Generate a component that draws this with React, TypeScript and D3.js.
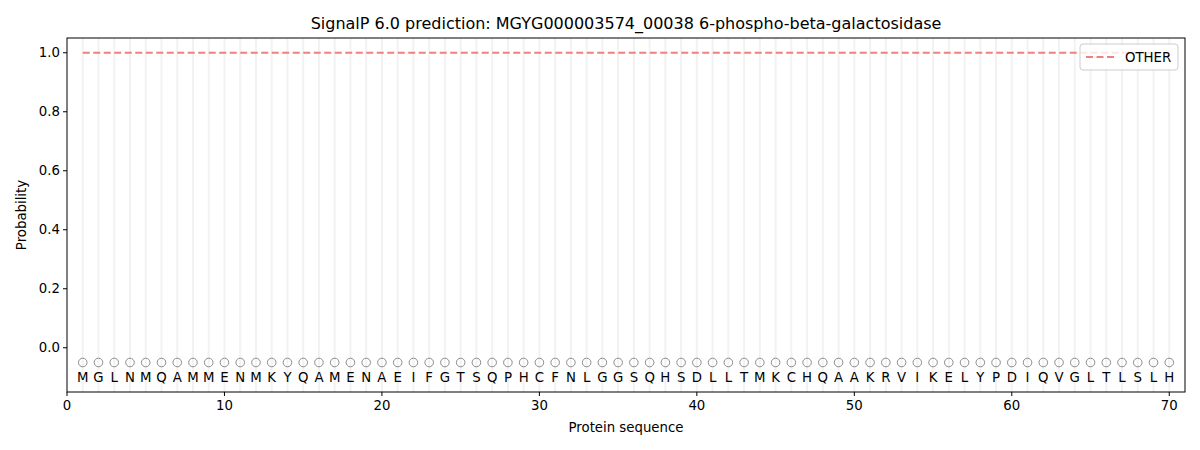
import React from "react";
import * as d3 from "d3";

const sequence = "MGLNMQAMMENMKYQAMENAEIFGTSQPHCFNLGGSQHSDLLTMKCHQAAKRVIKELYPDIQVGLTLSLH".split("");
const positions = sequence.map((_, i) => i + 1);
const otherProb = positions.map(() => 1.0);
const xTicks = [0, 10, 20, 30, 40, 50, 60, 70];
const yTicks = [0.0, 0.2, 0.4, 0.6, 0.8, 1.0];
const title = "SignalP 6.0 prediction: MGYG000003574_00038 6-phospho-beta-galactosidase";

export default function App() {
  const W = 1200, H = 450;
  const L = 67, R = 1185, T = 38, B = 392;
  const x = d3.scaleLinear().domain([0, 71]).range([L, R]);
  const y = d3.scaleLinear().domain([-0.15, 1.05]).range([B, T]);
  const line = d3.line<number>().x((_, i) => x(positions[i])).y((d) => y(d));
  const font = "DejaVu Sans, sans-serif";
  return (
    <svg width={W} height={H} style={{ position: "absolute", left: 0, top: 0 }} fontFamily={font}>
      <rect width={W} height={H} fill="white" />
      {positions.map((p) => (
        <line key={"g" + p} x1={x(p)} x2={x(p)} y1={T} y2={B} stroke="#f2f2f2" strokeWidth={2} />
      ))}
      <path d={line(otherProb) || ""} fill="none" stroke="#f08080" strokeWidth={2} strokeDasharray="7,3.5" />
      {positions.map((p) => (
        <circle key={"c" + p} cx={x(p)} cy={y(-0.05)} r={4.3} fill="none" stroke="#8c8c8c" strokeWidth={1} />
      ))}
      {sequence.map((s, i) => (
        <text key={"t" + i} x={x(positions[i])} y={y(-0.1)} dy="0.36em" textAnchor="middle" fontSize={13.3} fill="#000">{s}</text>
      ))}
      <rect x={L} y={T} width={R - L} height={B - T} fill="none" stroke="#000" strokeWidth={1} />
      {xTicks.map((t) => (
        <g key={"xt" + t}>
          <line x1={x(t)} x2={x(t)} y1={B} y2={B + 4} stroke="#000" />
          <text x={x(t)} y={B + 18} textAnchor="middle" fontSize={13.3}>{t}</text>
        </g>
      ))}
      {yTicks.map((t) => (
        <g key={"yt" + t}>
          <line x1={L - 4} x2={L} y1={y(t)} y2={y(t)} stroke="#000" />
          <text x={L - 7} y={y(t)} dy="0.35em" textAnchor="end" fontSize={13.3}>{t.toFixed(1)}</text>
        </g>
      ))}
      <text x={(L + R) / 2} y={432} textAnchor="middle" fontSize={13.3}>Protein sequence</text>
      <text transform={`translate(26,${(T + B) / 2}) rotate(-90)`} textAnchor="middle" fontSize={13.3}>Probability</text>
      <text x={(L + R) / 2} y={29} textAnchor="middle" fontSize={16}>{title}</text>
      <g>
        <rect x={1080} y={44} width={98} height={26} rx={3} fill="white" fillOpacity={0.8} stroke="#ccc" />
        <line x1={1086} x2={1114} y1={57} y2={57} stroke="#f08080" strokeWidth={2} strokeDasharray="7,3.5" />
        <text x={1125} y={57} dy="0.36em" fontSize={13.3}>OTHER</text>
      </g>
    </svg>
  );
}
